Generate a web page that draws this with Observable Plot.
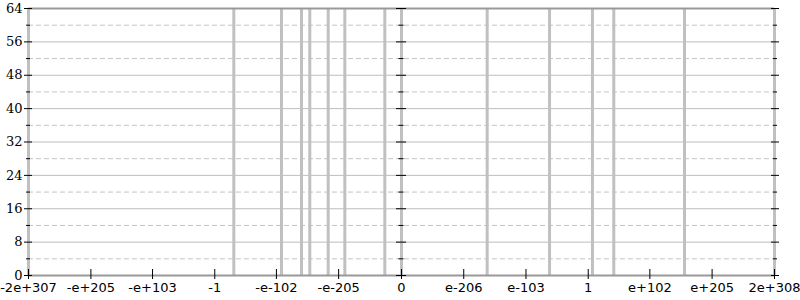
<!DOCTYPE html>
<html>
<head>
<meta charset="utf-8">
<script src="https://cdn.jsdelivr.net/npm/d3@7"></script>
<script src="https://cdn.jsdelivr.net/npm/@observablehq/plot@0.6"></script>
<style>
  html, body { margin: 0; padding: 0; background: #fff; }
  #chart svg { display: block; }
</style>
</head>
<body>
<div id="chart"></div>
<script>
// Bar positions (double values)
const barValues = [
  -Number.MAX_VALUE, -3e-32, -4e-111, -3e-144, -6e-158, -2e-188, -6e-216, -4e-282,
  0, 6e-168, 1e-64, 1e7, 2e42, 2e159, Number.MAX_VALUE
];
const barHeight = 64;

// X tick values and their labels
const xTickValues = [
  -Number.MAX_VALUE, -1e205, -1e103, -1, -1e-102, -1e-205, 0,
  1e-206, 1e-103, 1, 1e102, 1e205, Number.MAX_VALUE
];
const xTickLabels = [
  "-2e+307", "-e+205", "-e+103", "-1", "-e-102", "-e-205", "0",
  "e-206", "e-103", "1", "e+102", "e+205", "2e+308"
];

// Y ticks
const yMajor = [0, 8, 16, 24, 32, 40, 48, 56, 64];
const yMinor = [4, 12, 20, 28, 36, 44, 52, 60];

// order-preserving log-like mapping of doubles
const t = v => v === 0 ? 0 : Math.sign(v) * (Math.log10(Math.abs(v)) + 309);
const uMax = t(Number.MAX_VALUE);

const bars = barValues.map(v => ({u: t(v), h: barHeight}));
const xTicks = xTickValues.map(t);
const labelOf = new Map(xTicks.map((u, i) => [u, xTickLabels[i]]));
const centerTick = 8.3; // half-length of centre axis ticks in scale units

const chart = Plot.plot({
  width: 800,
  height: 300,
  marginLeft: 28,
  marginRight: 26,
  marginTop: 8,
  marginBottom: 25,
  style: {fontFamily: "DejaVu Sans", fontSize: "13px", color: "#000", background: "#fff"},
  x: {domain: [-uMax, uMax], type: "linear"},
  y: {domain: [0, 64]},
  marks: [
    Plot.ruleY(yMinor, {stroke: "#c4c4c4", strokeWidth: 1, strokeDasharray: "5,3"}),
    Plot.ruleY(yMajor.filter(d => d > 0 && d < 64), {stroke: "#bdbdbd", strokeWidth: 1}),
    Plot.ruleX(bars, {x: "u", y1: 0, y2: "h", stroke: "#c0c0c0", strokeWidth: 3}),
    Plot.ruleY([0, 64], {stroke: "#999", strokeWidth: 2}),
    // centre axis ticks
    Plot.ruleY(yMajor, {y: d => d, x1: -centerTick, x2: centerTick, stroke: "#000", strokeWidth: 1}),
    Plot.ruleY(yMinor, {y: d => d, x1: -centerTick / 2, x2: centerTick / 2, stroke: "#000", strokeWidth: 1}),
    // left axis
    Plot.axisY({ticks: yMajor, tickSize: 8, dx: 4, tickPadding: 2, label: null,
      fontFamily: "DejaVu Serif", fontSize: 13}),
    Plot.axisY({ticks: yMinor, tickSize: 4, dx: 2, tickFormat: () => "", label: null}),
    // right axis
    Plot.axisY({anchor: "right", ticks: yMajor, tickSize: 8, dx: -4, tickFormat: () => "", label: null}),
    Plot.axisY({anchor: "right", ticks: yMinor, tickSize: 4, dx: -2, tickFormat: () => "", label: null}),
    // bottom axis
    Plot.axisX({ticks: xTicks, tickSize: 10, dy: -6, tickPadding: 3,
      tickFormat: u => labelOf.get(u), label: null, fontSize: 13})
  ]
});
document.getElementById("chart").append(chart);
</script>
</body>
</html>
